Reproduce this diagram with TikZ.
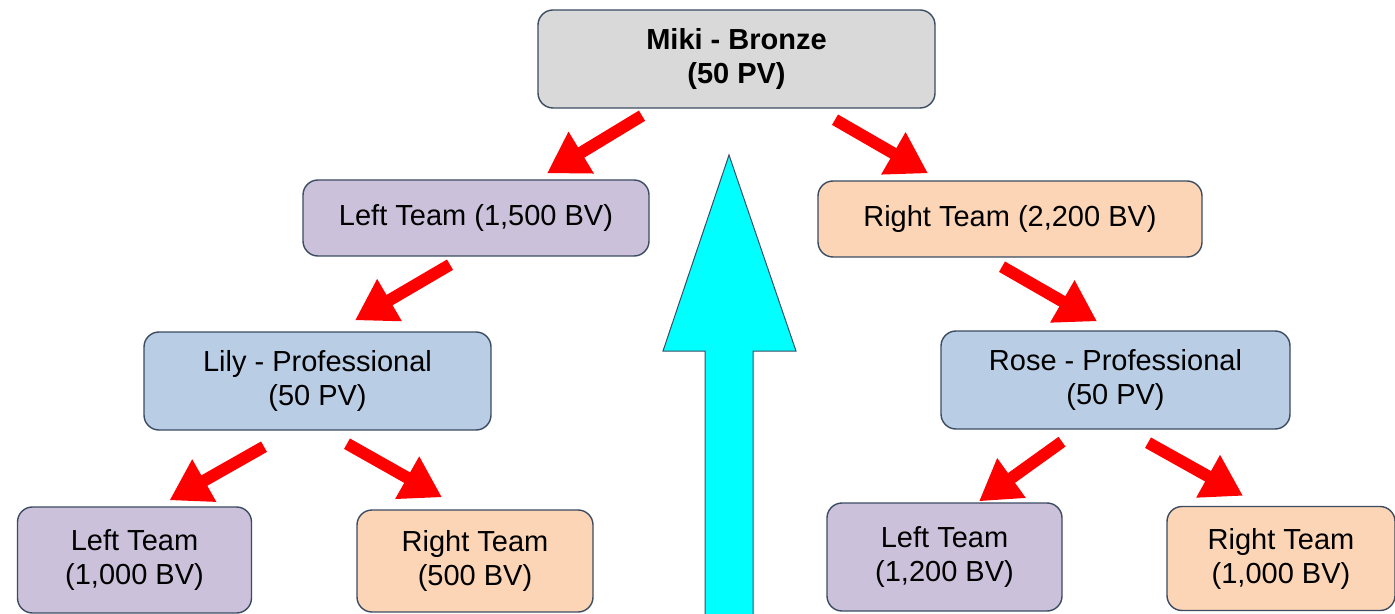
\documentclass[tikz,border=0pt]{standalone}
\usepackage{fontspec}
\setmainfont{Liberation Sans}
\usetikzlibrary{arrows.meta}

\definecolor{boxline}{HTML}{3B4B62}
\definecolor{bronze}{HTML}{D9D9D9}
\definecolor{leftteam}{HTML}{CCC1DA}
\definecolor{rightteam}{HTML}{FBD5B5}
\definecolor{member}{HTML}{B9CDE5}
\definecolor{upcyan}{HTML}{00FFFF}

\begin{document}
\begin{tikzpicture}[x=0.5pt,y=-0.5pt,
    box/.style={draw=boxline,line width=0.7pt,rounded corners=7.5pt,align=center,inner sep=0pt,
        font=\fontsize{14.5pt}{17pt}\selectfont},
    redarrow/.style={draw=red,line width=6pt,-{Triangle[width=23pt,length=20pt]}}]
    \useasboundingbox (0,0) rectangle (1395,614);

    % Sponsor
    \node[box,fill=bronze,minimum width=198.5pt,minimum height=49pt,font=\fontsize{14.5pt}{17pt}\selectfont\bfseries]
        (miki) at (736.5,59) {Miki - Bronze\\(50 PV)};

    % First level
    \node[box,fill=leftteam,minimum width=173pt,minimum height=38pt] (lt1) at (476,218) {Left Team (1,500 BV)};
    \node[box,fill=rightteam,minimum width=192pt,minimum height=38pt] (rt1) at (1010,219) {Right Team (2,200 BV)};

    % Members
    \node[box,fill=member,minimum width=173.5pt,minimum height=49pt] (lily) at (317.5,381) {Lily - Professional\\(50 PV)};
    \node[box,fill=member,minimum width=174.5pt,minimum height=49pt] (rose) at (1115.5,380) {Rose - Professional\\(50 PV)};

    % Bottom level
    \node[box,fill=leftteam,minimum width=117pt,minimum height=53pt] (lt2) at (134.5,560) {Left Team\\(1,000 BV)};
    \node[box,fill=rightteam,minimum width=118pt,minimum height=51pt] (rt2) at (475,561) {Right Team\\(500 BV)};
    \node[box,fill=leftteam,minimum width=117.5pt,minimum height=54pt] (lt3) at (944.5,557) {Left Team\\(1,200 BV)};
    \node[box,fill=rightteam,minimum width=114pt,minimum height=52pt] (rt3) at (1281,558.5) {Right Team\\(1,000 BV)};

    % Upward arrow
    \draw[fill=upcyan,draw=boxline,line width=0.5pt]
        (705,640) -- (705,351) -- (663,351) -- (729,155) -- (796,351) -- (753,351) -- (753,640);

    \draw[redarrow] ([shift={(-94.5,7)}]miki.south) -- ([shift={(71,-6)}]lt1.north);
    \draw[redarrow] ([shift={(98.5,11)}]miki.south) -- ([shift={(-82,-7)}]rt1.north);
    \draw[redarrow] ([shift={(-26,8)}]lt1.south) -- ([shift={(37.5,-11)}]lily.north);
    \draw[redarrow] ([shift={(-8,9)}]rt1.south) -- ([shift={(-18.5,-9)}]rose.north);
    \draw[redarrow] ([shift={(-53.5,16)}]lily.south) -- ([shift={(35,-6)}]lt2.north);
    \draw[redarrow] ([shift={(29.5,13)}]lily.south) -- ([shift={(-33,-12)}]rt2.north);
    \draw[redarrow] ([shift={(-53.5,12)}]rose.south) -- ([shift={(34.5,-1)}]lt3.north);
    \draw[redarrow] ([shift={(32.5,13)}]rose.south) -- ([shift={(-38,-10)}]rt3.north);
\end{tikzpicture}
\end{document}
